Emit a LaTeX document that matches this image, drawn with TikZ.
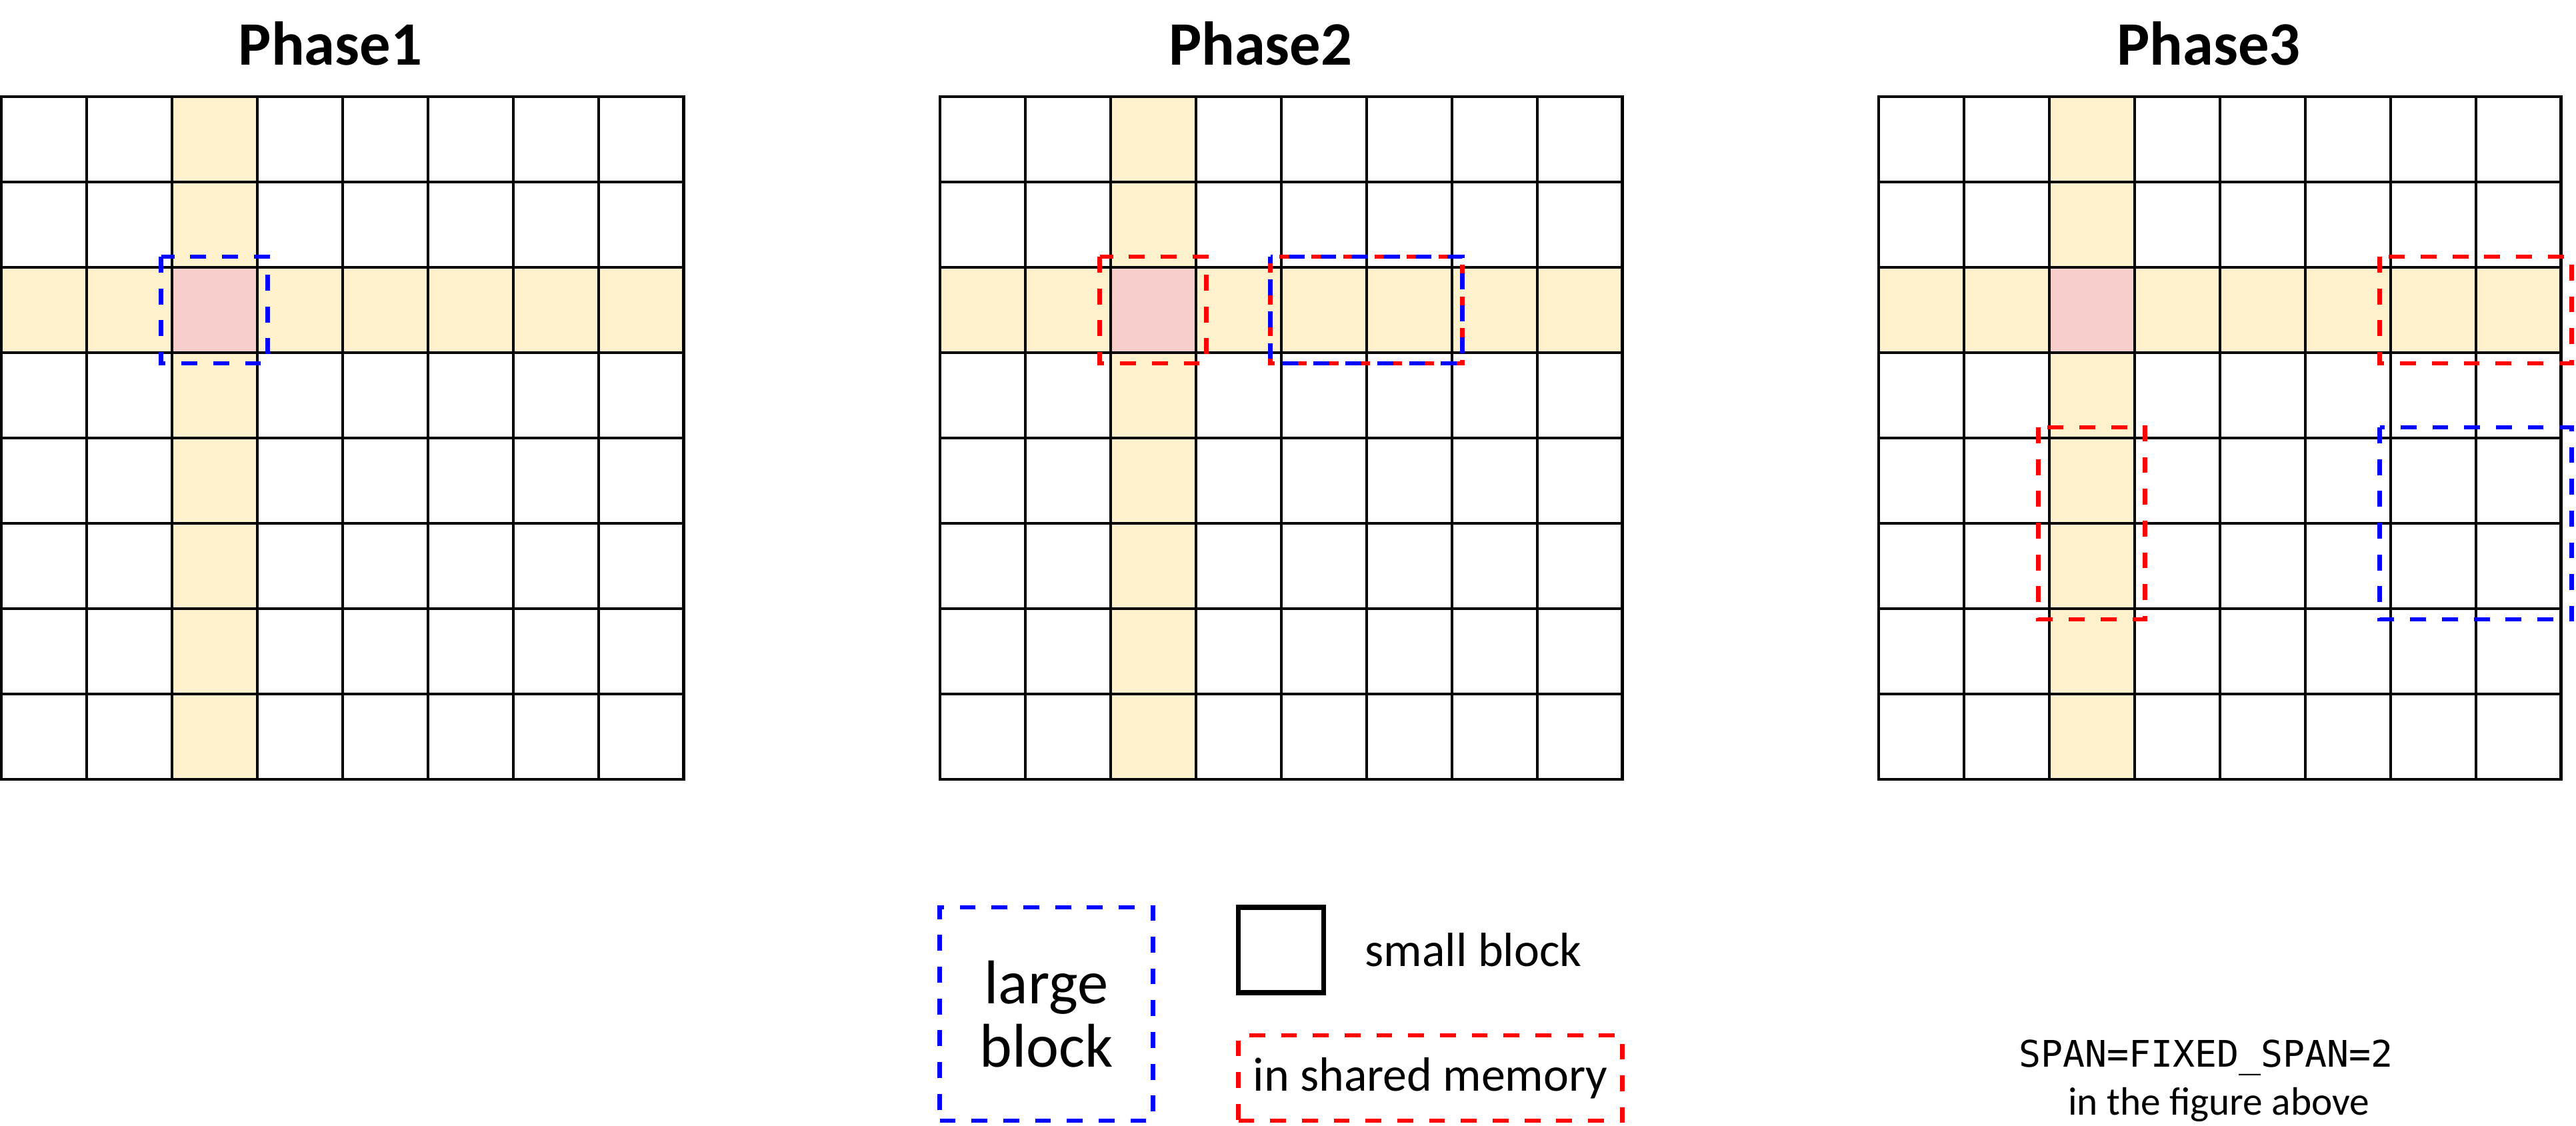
\documentclass[tikz,border=0pt]{standalone}
\usepackage{fontspec}
\setmainfont{Carlito}
\setmonofont{DejaVu Sans Mono}
\usetikzlibrary{positioning}
\definecolor{hlyellow}{HTML}{FFF2CC}
\definecolor{hlpink}{HTML}{F8CECC}
\tikzset{
  gridline/.style={line width=0.9pt, line cap=rect},
  dashbox/.style={line width=1.55pt, dash pattern=on 5.3pt off 5.3pt},
  phasetitle/.style={anchor=base, inner sep=0pt, font=\bfseries\fontsize{20.6}{24}\selectfont},
  legendtext/.style={inner sep=0pt, font=\fontsize{16}{19}\selectfont},
}
\begin{document}
\begin{tikzpicture}[x=1cm,y=1cm]
\useasboundingbox (-0.012,1.133) rectangle (30.176,-12.055);
% the three 8x8 grids with the current row and column
\foreach \ox in {0,11,22} {
  \fill[hlyellow] (\ox,-2) rectangle (\ox+8,-3);
  \fill[hlyellow] (\ox+2,0) rectangle (\ox+3,-8);
  \fill[hlpink] (\ox+2,-2) rectangle (\ox+3,-3);
  \draw[gridline] (\ox,0) grid (\ox+8,-8);
}
\node[phasetitle] (ph1) at (3.86,0.375) {Phase1};
\node[phasetitle] (ph2) at (14.76,0.375) {Phase2};
\node[phasetitle] (ph3) at (25.87,0.375) {Phase3};
% phase 1
\draw[dashbox, blue] (1.875,-1.875) rectangle (3.125,-3.125);
% phase 2
\draw[dashbox, red] (12.875,-1.875) rectangle (14.125,-3.125);
\draw[dashbox, red] (14.875,-1.875) rectangle (17.125,-3.125);
\draw[dashbox, blue, dash phase=3pt] (14.875,-1.875) rectangle (17.125,-3.125);
% phase 3
\draw[dashbox, red] (27.875,-1.875) rectangle (30.125,-3.125);
\draw[dashbox, red] (23.875,-3.875) rectangle (25.125,-6.125);
\draw[dashbox, blue] (27.875,-3.875) rectangle (30.125,-6.125);
% legend
\node[dashbox, draw=blue, minimum width=2.5cm, minimum height=2.5cm, align=center,
  font=\fontsize{20.6}{21}\selectfont] (large) at (12.25,-10.75) {large\\block};
\node[draw, line width=1.67pt, minimum size=1cm, inner sep=0pt] (small) at (15,-10) {};
\node[legendtext, right=0.45cm of small] (smalltxt) {small block};
\node[legendtext, dashbox, draw=red, minimum width=4.5cm, minimum height=1cm] (shared) at (16.75,-11.5) {in shared memory};
\node[anchor=base, inner sep=0pt, font=\ttfamily\fontsize{12.2}{15}\selectfont] (span) at (25.84,-11.37) {SPAN=FIXED\_SPAN=2};
\node[anchor=base, inner sep=0pt, font=\fontsize{13.2}{16}\selectfont] (figabove) at (25.99,-11.93) {in the figure above};
\end{tikzpicture}
\end{document}
